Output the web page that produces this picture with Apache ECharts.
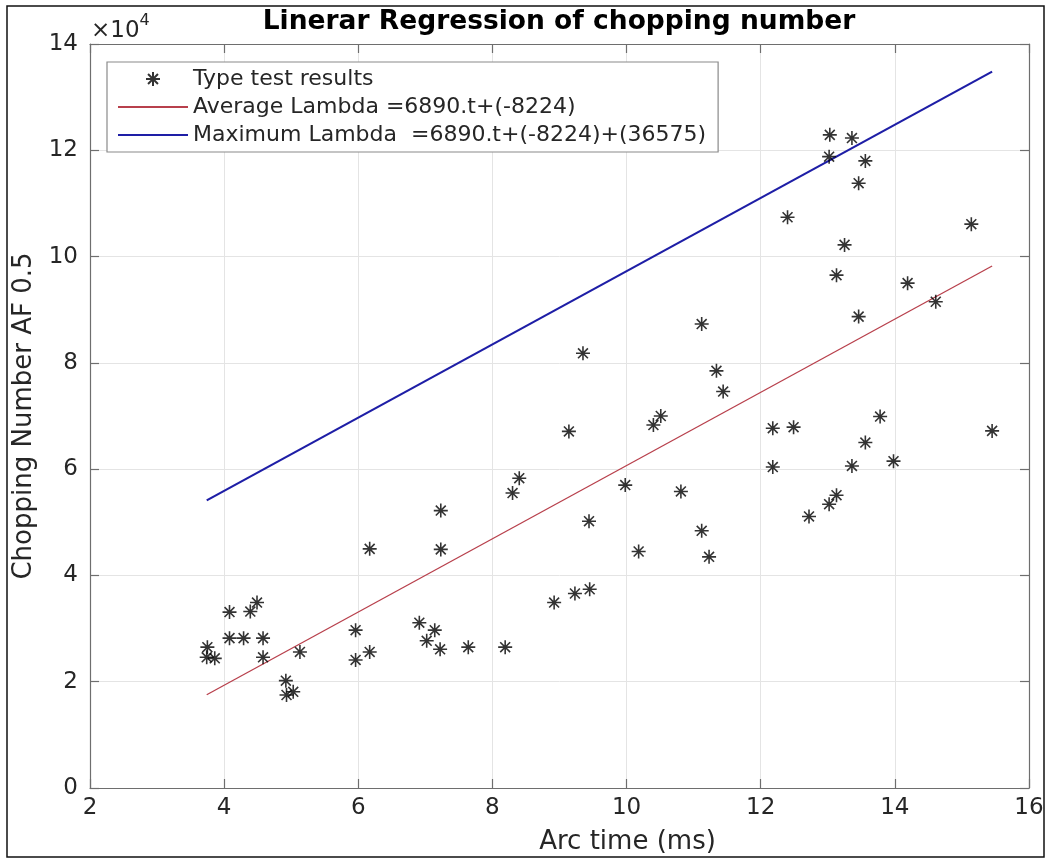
<!DOCTYPE html>
<html>
<head>
<meta charset="utf-8">
<title>Linerar Regression of chopping number</title>
<script src="https://cdn.jsdelivr.net/npm/echarts@6/dist/echarts.min.js"></script>
<style>
  html, body { margin: 0; padding: 0; background: #ffffff; }
  #chart { width: 1051px; height: 861px; }
</style>
</head>
<body>
<div id="chart"></div>
<script>
// Type test results: arc time (ms) and chopping number AF 0.5
const arcTime = [
  3.75, 3.74, 3.86, 4.08, 4.08, 4.29, 4.39, 4.49, 4.58, 4.58,
  4.92, 4.93, 5.03, 5.13, 5.96, 5.96, 6.17, 6.17, 6.91, 7.02,
  7.14, 7.22, 7.23, 7.23, 7.64, 8.19, 8.30, 8.40, 8.92, 9.14,
  9.23, 9.35, 9.44, 9.45, 9.98, 10.18, 10.40, 10.51, 10.81, 11.12,
  11.12, 11.23, 11.34, 11.44, 12.18, 12.18, 12.40, 12.49, 12.72, 13.02,
  13.02, 13.03, 13.13, 13.13, 13.25, 13.36, 13.36, 13.46, 13.46, 13.56,
  13.56, 13.78, 13.98, 14.19, 14.61, 15.14, 15.45
];
const choppingNumber = [
  26500, 24600, 24400, 33100, 28200, 28200, 33200, 34900, 28200, 24600,
  20200, 17500, 18100, 25600, 29700, 24100, 25600, 45000, 31100, 27700,
  29700, 26100, 52200, 44900, 26500, 26500, 55500, 58300, 34900, 67100,
  36600, 81800, 50200, 37400, 57000, 44500, 68300, 70000, 55800, 87300,
  48400, 43500, 78500, 74600, 67700, 60400, 107400, 67900, 51100, 118800,
  53400, 122900, 96500, 55100, 102200, 122300, 60600, 113800, 88700, 118000,
  65000, 69900, 61500, 95000, 91500, 106100, 67200
];

// Regression coefficients
const slope = 6890;
const intercept = -8224;
const maxOffset = 36575;

// Axis ticks
const xTicks = [2, 4, 6, 8, 10, 12, 14, 16];
const yTicks = [0, 2, 4, 6, 8, 10, 12, 14];   // in units of 10^4
const yScale = 10000;

const seriesNames = [
  'Type test results',
  'Average Lambda =6890.t+(-8224)',
  'Maximum Lambda  =6890.t+(-8224)+(36575)'
];

const points = arcTime.map((t, i) => [t, choppingNumber[i]]);
const tStart = Math.min(...arcTime);
const tEnd = Math.max(...arcTime);
const avgLine = [tStart, tEnd].map(t => [t, slope * t + intercept]);
const maxLine = [tStart, tEnd].map(t => [t, slope * t + intercept + maxOffset]);

const FONT = 'DejaVu Sans';
const TXT = '#262626';
const AXIS = '#6e6e6e';
const GRID = '#e4e4e4';
const RED = '#b8404c';
const BLUE = '#1e1ea6';

// asterisk marker: plus and cross strokes
const asterisk = 'path://M5,0L5,10M0,5L10,5M1.46,1.46L8.54,8.54M1.46,8.54L8.54,1.46';

const frameAxis = {
  axisLine: { show: true, onZero: false, lineStyle: { color: AXIS, width: 1.2 } },
  axisTick: { show: true, inside: true, length: 9, lineStyle: { color: AXIS, width: 1.2 } },
  axisLabel: { show: false },
  splitLine: { show: false }
};

const chart = echarts.init(document.getElementById('chart'), null, { renderer: 'canvas' });

chart.setOption({
  backgroundColor: '#ffffff',
  animation: false,
  title: {
    text: 'Linerar Regression of chopping number',
    left: 559,
    top: 9,
    textAlign: 'center',
    padding: 0,
    textStyle: { fontFamily: FONT, fontSize: 26.5, fontWeight: 'bold', color: '#000000' }
  },
  grid: { left: 90, right: 22, top: 44, bottom: 73, containLabel: false },
  legend: {
    orient: 'vertical',
    left: 107,
    top: 62,
    padding: [5, 12, 5, 10],
    itemWidth: 70,
    itemHeight: 14,
    itemGap: 4,
    backgroundColor: '#ffffff',
    borderColor: '#8a8a8a',
    borderWidth: 1.2,
    borderRadius: 0,
    selectedMode: false,
    textStyle: { fontFamily: FONT, fontSize: 22, color: TXT, lineHeight: 24 },
    data: [
      { name: seriesNames[0], icon: asterisk },
      { name: seriesNames[1], itemStyle: { opacity: 0 } },
      { name: seriesNames[2], itemStyle: { opacity: 0 } }
    ]
  },
  xAxis: [
    {
      type: 'value',
      position: 'bottom',
      min: xTicks[0],
      max: xTicks[xTicks.length - 1],
      interval: 2,
      name: 'Arc time (ms)',
      nameLocation: 'middle',
      nameGap: 41,
      nameTextStyle: { fontFamily: FONT, fontSize: 26, color: TXT, padding: [0, 0, 0, 136] },
      axisLine: { show: true, onZero: false, lineStyle: { color: AXIS, width: 1.2 } },
      axisTick: { show: true, inside: true, length: 9, lineStyle: { color: AXIS, width: 1.2 } },
      axisLabel: { margin: 9, fontFamily: FONT, fontSize: 23, color: TXT },
      splitLine: { show: true, lineStyle: { color: GRID, width: 1 } }
    },
    Object.assign({ type: 'value', position: 'top', min: xTicks[0], max: xTicks[xTicks.length - 1], interval: 2 }, frameAxis)
  ],
  yAxis: [
    {
      type: 'value',
      position: 'left',
      min: yTicks[0] * yScale,
      max: yTicks[yTicks.length - 1] * yScale,
      interval: 2 * yScale,
      name: 'Chopping Number AF 0.5',
      nameLocation: 'middle',
      nameGap: 53,
      nameTextStyle: { fontFamily: FONT, fontSize: 26, color: TXT },
      axisLine: { show: true, onZero: false, lineStyle: { color: AXIS, width: 1.2 } },
      axisTick: { show: true, inside: true, length: 9, lineStyle: { color: AXIS, width: 1.2 } },
      axisLabel: {
        margin: 12, fontFamily: FONT, fontSize: 23, color: TXT,
        formatter: v => String(Math.round(v / yScale))
      },
      splitLine: { show: true, lineStyle: { color: GRID, width: 1 } }
    },
    Object.assign({ type: 'value', position: 'right', min: yTicks[0] * yScale, max: yTicks[yTicks.length - 1] * yScale, interval: 2 * yScale }, frameAxis)
  ],
  series: [
    {
      name: seriesNames[0],
      type: 'scatter',
      data: points,
      symbol: asterisk,
      symbolSize: 14,
      itemStyle: { color: 'rgba(0,0,0,0)', borderColor: '#000000', borderWidth: 1.6 },
      z: 5
    },
    {
      name: seriesNames[1],
      type: 'line',
      data: avgLine,
      symbol: 'none',
      lineStyle: { color: RED, width: 1.3 },
      itemStyle: { color: RED },
      z: 3
    },
    {
      name: seriesNames[2],
      type: 'line',
      data: maxLine,
      symbol: 'none',
      lineStyle: { color: BLUE, width: 2.2 },
      itemStyle: { color: BLUE },
      z: 3
    }
  ],
  graphic: [
    {
      // outer figure border
      type: 'rect',
      shape: { x: 7, y: 6, width: 1037, height: 851 },
      style: { fill: 'none', stroke: '#111111', lineWidth: 1.5 },
      silent: true
    },
    {
      // exponent of the y axis
      type: 'text',
      left: 91,
      top: 13,
      style: {
        text: '{b|×10}{s|4}',
        rich: {
          b: { fontFamily: FONT, fontSize: 23, fill: TXT, verticalAlign: 'bottom', lineHeight: 30 },
          s: { fontFamily: FONT, fontSize: 16, fill: TXT, verticalAlign: 'top', lineHeight: 30 }
        }
      },
      silent: true
    }
  ]
});
</script>
</body>
</html>
